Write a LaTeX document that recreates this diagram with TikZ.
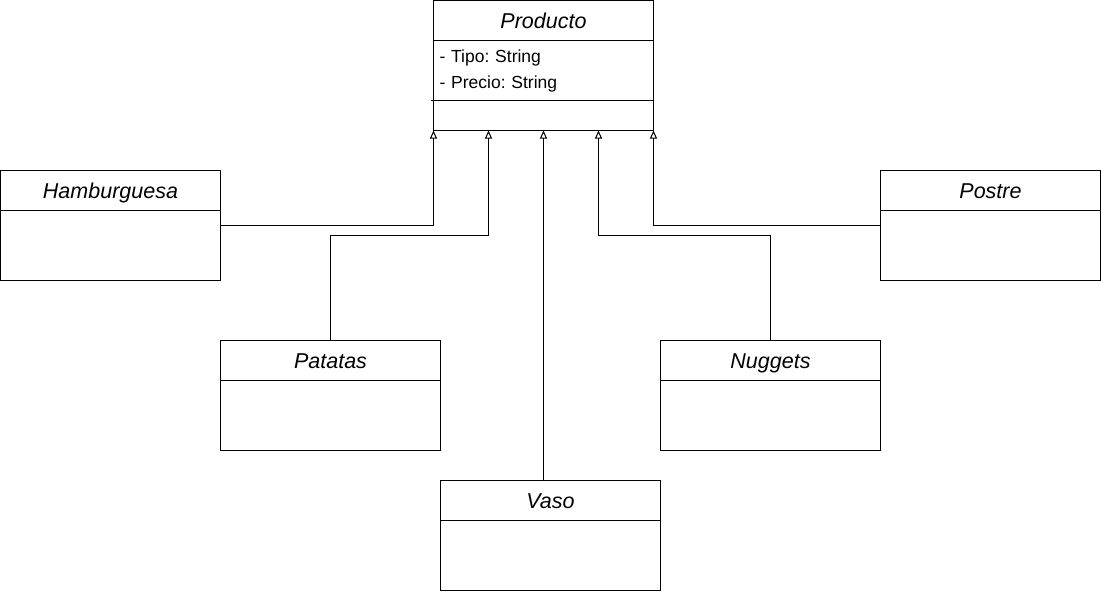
\documentclass[tikz,border=0pt]{standalone}
\usepackage{fontspec}
\setmainfont{Liberation Sans}
\usetikzlibrary{arrows.meta,positioning,calc}
\frenchspacing

\begin{document}
\begin{tikzpicture}[x=1pt, y=-1pt,
  line width=1pt,
  head/.style={minimum width=220pt, minimum height=40pt, inner sep=0pt, outer sep=0pt, text height=15pt, text depth=0pt,
    font=\fontsize{21.5}{24}\selectfont\itshape},
  body/.style={minimum width=220pt, minimum height=70pt, inner sep=0pt, outer sep=0pt},
  inh/.style={-{Triangle[open, length=8pt, width=7pt]}},
  node distance=0pt]
\useasboundingbox (-0.5,-0.5) rectangle (1100.5,591);
% parent class
\node[head] (prod) at (543,20) {Producto};
\node[body, minimum height=60pt, below=of prod, align=left, text width=208pt,
  font=\fontsize{17.5}{26}\selectfont] (prodattr) {- Tipo: String\\- Precio: String};
\node[body, minimum height=30pt, below=of prodattr] (prodm) {};
\draw (prod.north west) rectangle (prodm.south east) (prod.south west) -- (prod.south east)
  ($(prodattr.south west)+(-3,0)$) -- (prodattr.south east);
% subclasses
\node[head] (ham) at (110,190) {Hamburguesa};
\node[body, below=of ham] (hamb) {};
\node[head] (pat) at (330,360) {Patatas};
\node[body, below=of pat] (patb) {};
\node[head] (vaso) at (550,500) {Vaso};
\node[body, below=of vaso] (vasob) {};
\node[head] (nug) at (770,360) {Nuggets};
\node[body, below=of nug] (nugb) {};
\node[head] (pos) at (990,190) {Postre};
\node[body, below=of pos] (posb) {};
\foreach \c in {ham,pat,vaso,nug,pos}
  \draw (\c.north west) rectangle (\c b.south east) (\c.south west) -- (\c.south east);
% generalisation arrows
\coordinate (p2) at ($(prodm.south west)+(55,0)$);
\coordinate (p3) at ($(prodm.south west)+(110,0)$);
\coordinate (p4) at ($(prodm.south west)+(165,0)$);
\draw[inh] ($(hamb.north east)+(0,15)$) -| (prodm.south west);
\draw[inh] (pat.north) -- ++(0,-105) -| (p2);
\draw[inh] (vaso.north -| p3) -- (p3);
\draw[inh] (nug.north) -- ++(0,-105) -| (p4);
\draw[inh] ($(posb.north west)+(0,15)$) -| (prodm.south east);
\end{tikzpicture}
\end{document}
